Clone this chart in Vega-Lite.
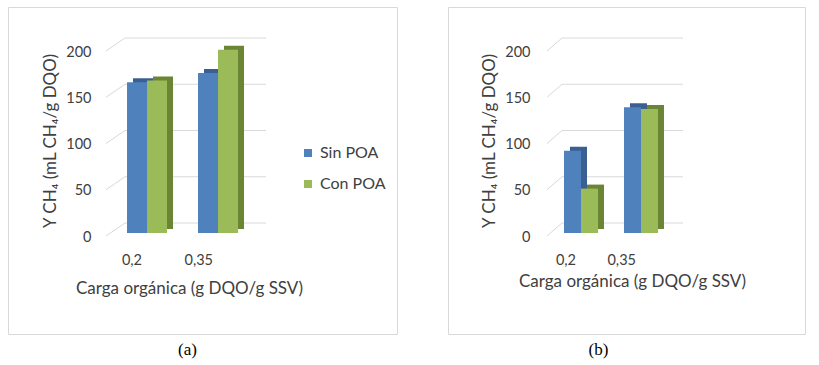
{
  "$schema": "https://vega.github.io/schema/vega-lite/v6.json",
  "padding": {"left": 7, "top": 6, "right": 0, "bottom": 0},
  "background": "white",
  "bounds": "flush",
  "spacing": 51,
  "datasets": {
    "a": [
      {"carga": "0,2", "serie": "Sin POA", "valor": 163},
      {"carga": "0,2", "serie": "Con POA", "valor": 165},
      {"carga": "0,35", "serie": "Sin POA", "valor": 173},
      {"carga": "0,35", "serie": "Con POA", "valor": 198}
    ],
    "b": [
      {"carga": "0,2", "serie": "Sin POA", "valor": 89},
      {"carga": "0,2", "serie": "Con POA", "valor": 48},
      {"carga": "0,35", "serie": "Sin POA", "valor": 136},
      {"carga": "0,35", "serie": "Con POA", "valor": 134}
    ],
    "grid": [{"v": 0}, {"v": 50}, {"v": 100}, {"v": 150}, {"v": 200}]
  },
  "config": {
    "view": {"stroke": "#d9d9d9", "strokeWidth": 1},
    "axis": {"labelFont": "Lato", "labelFontSize": 14.5, "labelColor": "#404040", "titleFont": "Lato", "titleFontSize": 17, "titleFontWeight": "normal", "titleColor": "#404040", "domain": false, "ticks": false, "grid": false},
    "legend": {"labelFont": "Lato", "labelFontSize": 16, "labelColor": "#404040"}
  },
  "hconcat": [
    {
      "width": 389,
      "height": 327,
      "title": {"text": "(a)", "orient": "bottom", "font": "Liberation Serif", "fontSize": 17, "fontWeight": "normal", "color": "#000000", "offset": 8, "dx": -15},
      "resolve": {"scale": {"xOffset": "independent"}},
      "layer": [
        {
          "data": {"name": "grid"},
          "mark": {"type": "rule", "color": "#d9d9d9", "strokeWidth": 1, "xOffset": -21, "x2Offset": -22, "yOffset": 3, "y2Offset": -10},
          "encoding": {
            "x": {"datum": "0,2", "type": "nominal", "bandPosition": 0},
            "x2": {"datum": "0,2"},
            "y": {"field": "v", "type": "quantitative"},
            "y2": {"field": "v"}
          }
        },
        {
          "data": {"name": "grid"},
          "mark": {"type": "rule", "color": "#d9d9d9", "strokeWidth": 1, "xOffset": -2, "x2Offset": 48, "yOffset": -10, "y2Offset": -10},
          "encoding": {
            "x": {"datum": "0,2", "type": "nominal", "bandPosition": 0},
            "x2": {"datum": "0,35"},
            "y": {"field": "v", "type": "quantitative"},
            "y2": {"field": "v"}
          }
        },
        {
          "data": {"name": "a"},
          "mark": {"type": "bar", "yOffset": -4, "y2Offset": -4},
          "encoding": {
            "x": {"field": "carga", "type": "nominal"},
            "xOffset": {"field": "serie", "type": "nominal", "sort": ["Sin POA", "Con POA"], "scale": {"domain": ["Sin POA", "Con POA"], "range": [6, 46], "paddingInner": 0, "paddingOuter": 0}},
            "y": {"field": "valor", "type": "quantitative"},
            "color": {"condition": {"test": "datum.serie === 'Sin POA'", "value": "#3a5f93"}, "value": "#6a8533"}
          }
        },
        {
          "data": {"name": "a"},
          "mark": {"type": "bar"},
          "encoding": {
            "x": {
              "field": "carga", "type": "nominal", "sort": ["0,2", "0,35"],
              "scale": {"type": "band", "domain": ["0,2", "0,35"], "range": [103.5, 245.5], "paddingInner": 0.437, "paddingOuter": 0.2185},
              "axis": {"title": "Carga orgánica (g DQO/g SSV)", "labelAngle": 0, "offset": -77, "labelPadding": 3, "labelOffset": -5, "titlePadding": 14, "titleX": 181}
            },
            "xOffset": {"field": "serie", "type": "nominal", "sort": ["Sin POA", "Con POA"], "scale": {"domain": ["Sin POA", "Con POA"], "range": [0, 40], "paddingInner": 0, "paddingOuter": 0}},
            "y": {
              "field": "valor", "type": "quantitative",
              "scale": {"domain": [0, 200], "range": [226, 41], "nice": false},
              "axis": {"title": "Y CH₄ (mL CH₄/g DQO)", "values": [0, 50, 100, 150, 200], "offset": -86, "labelPadding": 3, "labelOffset": 4, "titlePadding": 6}
            },
            "color": {
              "field": "serie", "type": "nominal",
              "scale": {"domain": ["Sin POA", "Con POA"], "range": ["#4f81bd", "#9bbb59"]},
              "legend": {"title": null, "orient": "none", "legendX": 292, "legendY": 138, "symbolType": "square", "symbolSize": 64, "symbolStrokeWidth": 0, "rowPadding": 15}
            }
          }
        }
      ]
    },
    {
      "width": 357,
      "height": 327,
      "title": {"text": "(b)", "orient": "bottom", "font": "Liberation Serif", "fontSize": 17, "fontWeight": "normal", "color": "#000000", "offset": 8, "dx": -28},
      "resolve": {"scale": {"xOffset": "independent"}},
      "layer": [
        {
          "data": {"name": "grid"},
          "mark": {"type": "rule", "color": "#d9d9d9", "strokeWidth": 1, "xOffset": -17, "x2Offset": -19, "yOffset": 3, "y2Offset": -10},
          "encoding": {
            "x": {"datum": "0,2", "type": "nominal", "bandPosition": 0},
            "x2": {"datum": "0,2"},
            "y": {"field": "v", "type": "quantitative"},
            "y2": {"field": "v"}
          }
        },
        {
          "data": {"name": "grid"},
          "mark": {"type": "rule", "color": "#d9d9d9", "strokeWidth": 1, "xOffset": -2, "x2Offset": 42, "yOffset": -10, "y2Offset": -10},
          "encoding": {
            "x": {"datum": "0,2", "type": "nominal", "bandPosition": 0},
            "x2": {"datum": "0,35"},
            "y": {"field": "v", "type": "quantitative"},
            "y2": {"field": "v"}
          }
        },
        {
          "data": {"name": "b"},
          "mark": {"type": "bar", "yOffset": -4, "y2Offset": -4},
          "encoding": {
            "x": {"field": "carga", "type": "nominal"},
            "xOffset": {"field": "serie", "type": "nominal", "sort": ["Sin POA", "Con POA"], "scale": {"domain": ["Sin POA", "Con POA"], "range": [6, 40], "paddingInner": 0, "paddingOuter": 0}},
            "y": {"field": "valor", "type": "quantitative"},
            "color": {"condition": {"test": "datum.serie === 'Sin POA'", "value": "#3a5f93"}, "value": "#6a8533"}
          }
        },
        {
          "data": {"name": "b"},
          "mark": {"type": "bar"},
          "encoding": {
            "x": {
              "field": "carga", "type": "nominal", "sort": ["0,2", "0,35"],
              "scale": {"type": "band", "domain": ["0,2", "0,35"], "range": [103, 223], "paddingInner": 0.433, "paddingOuter": 0.2167},
              "axis": {"title": "Carga orgánica (g DQO/g SSV)", "labelAngle": 0, "offset": -77, "labelPadding": 3, "labelOffset": -5, "titlePadding": 7, "titleX": 184}
            },
            "xOffset": {"field": "serie", "type": "nominal", "sort": ["Sin POA", "Con POA"], "scale": {"domain": ["Sin POA", "Con POA"], "range": [0, 34], "paddingInner": 0, "paddingOuter": 0}},
            "y": {
              "field": "valor", "type": "quantitative",
              "scale": {"domain": [0, 200], "range": [226, 41], "nice": false},
              "axis": {"title": "Y CH₄ (mL CH₄/g DQO)", "values": [0, 50, 100, 150, 200], "offset": -85, "labelPadding": 3, "labelOffset": 4, "titlePadding": 6}
            },
            "color": {
              "field": "serie", "type": "nominal",
              "scale": {"domain": ["Sin POA", "Con POA"], "range": ["#4f81bd", "#9bbb59"]},
              "legend": {"title": null, "orient": "none", "legendX": 272, "legendY": 138, "symbolType": "square", "symbolSize": 64, "symbolStrokeWidth": 0, "rowPadding": 15}
            }
          }
        }
      ]
    }
  ]
}
